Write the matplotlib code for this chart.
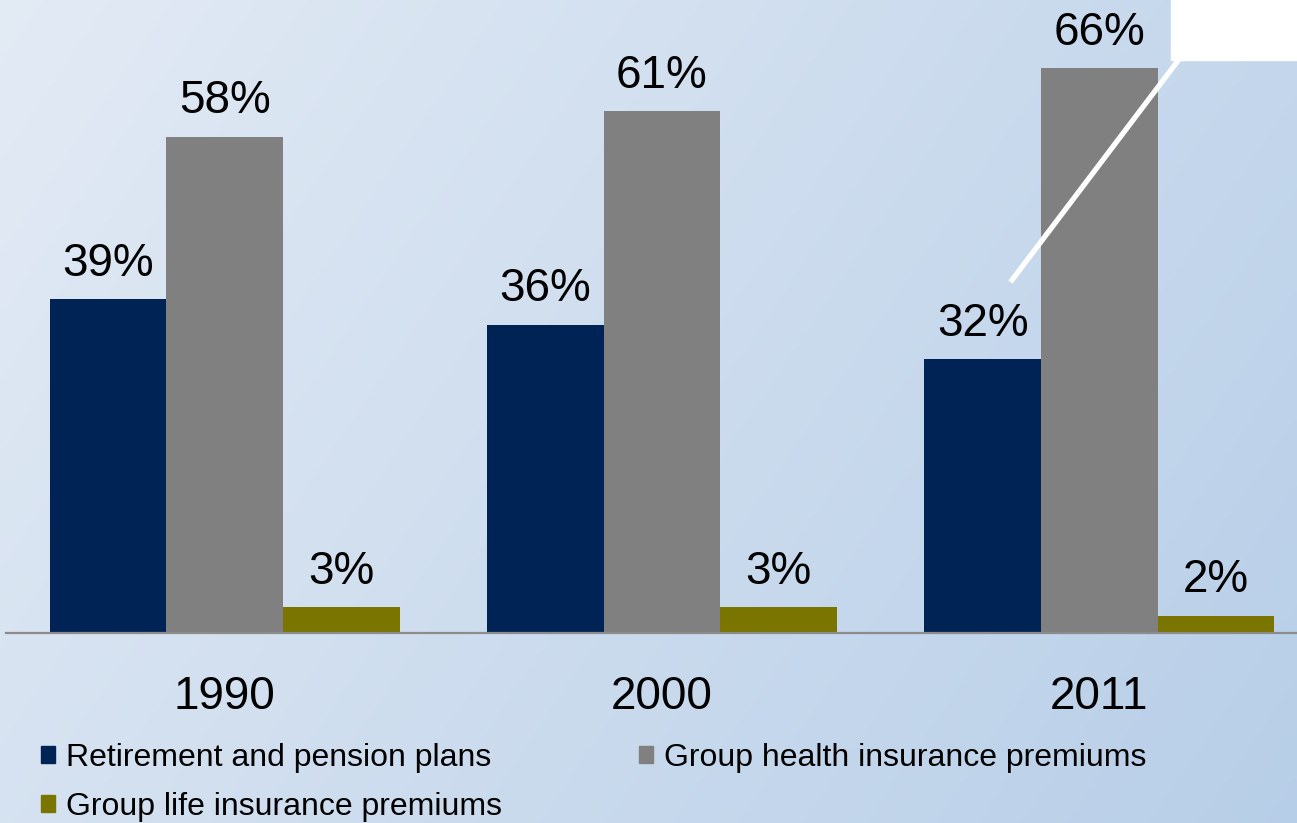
import matplotlib
matplotlib.use("Agg")
import matplotlib.pyplot as plt
import numpy as np
from matplotlib.patches import Rectangle
from matplotlib.lines import Line2D

years = ["1990", "2000", "2011"]
retirement = [39, 36, 32]
health = [58, 61, 66]
life = [3, 3, 2]
series_names = [
    "Retirement and pension plans",
    "Group health insurance premiums",
    "Group life insurance premiums",
]

NAVY, GRAY, OLIVE = "#002356", "#808080", "#7a7400"

plt.rcParams["font.family"] = ["Liberation Sans", "DejaVu Sans"]

W, H = 1297, 823
fig = plt.figure(figsize=(W / 100, H / 100), dpi=100)

# background gradient (light blue, deeper towards bottom right)
bg = fig.add_axes([0, 0, 1, 1], zorder=0)
gx = np.linspace(0, 1, 300)
gy = np.linspace(0, 1, 200)
X, Y = np.meshgrid(gx, gy)
t = np.clip(0.7 * X + 0.3 * Y, 0, 1)
c0 = np.array([0.89, 0.92, 0.96])
c1 = np.array([0.72, 0.81, 0.91])
img = c0[None, None, :] * (1 - t[..., None]) + c1[None, None, :] * t[..., None]
bg.imshow(img, aspect="auto", extent=[0, 1, 0, 1], origin="upper")
bg.axis("off")

bottom = (H - 633) / H
ax = fig.add_axes([6 / W, bottom, 1 - 6 / W, 1 - bottom], zorder=1)
ax.patch.set_alpha(0)

x = np.arange(len(years))
bw = 0.2667
groups = [(retirement, NAVY), (health, GRAY), (life, OLIVE)]
for i, (vals, col) in enumerate(groups):
    pos = x + (i - 1) * bw
    ax.bar(pos, vals, width=bw, color=col, zorder=2)
    for px, v in zip(pos, vals):
        ax.text(px, v + 1.6, f"{v}%", ha="center", va="bottom", fontsize=33,
                color="black")

ax.set_xlim(-0.5, 2.452)
ax.set_ylim(0, 74)
ax.set_xticks(x)
ax.set_xticklabels(years, fontsize=33)
ax.tick_params(axis="x", length=0, pad=30)
ax.set_yticks([])
for s in ["top", "right", "left"]:
    ax.spines[s].set_visible(False)
ax.spines["bottom"].set_color("#8c8c8c")
ax.spines["bottom"].set_linewidth(1.6)

handles = [
    Rectangle((0, 0), 1, 1, color=NAVY),
    Rectangle((0, 0), 1, 1, color=OLIVE),
    Rectangle((0, 0), 1, 1, color=GRAY),
]
labels = [series_names[0], series_names[2], series_names[1]]
fig.legend(handles, labels, ncol=2, loc="upper left",
           bbox_to_anchor=(41 / W, 1 - 743 / H), frameon=False, fontsize=23,
           handlelength=0.43, handleheight=0.43, handletextpad=0.35,
           columnspacing=4.3, labelspacing=0.6, borderpad=0,
           borderaxespad=0)

# white callout decoration in the top right
over = fig.add_axes([0, 0, 1, 1], zorder=3)
over.set_xlim(0, W)
over.set_ylim(H, 0)
over.axis("off")
over.add_patch(Rectangle((1171, 0), W - 1171, 60, color="white"))
over.add_line(Line2D([1012, 1180], [280, 58], color="white", lw=3.8))

fig.savefig("out.png", dpi=100)
